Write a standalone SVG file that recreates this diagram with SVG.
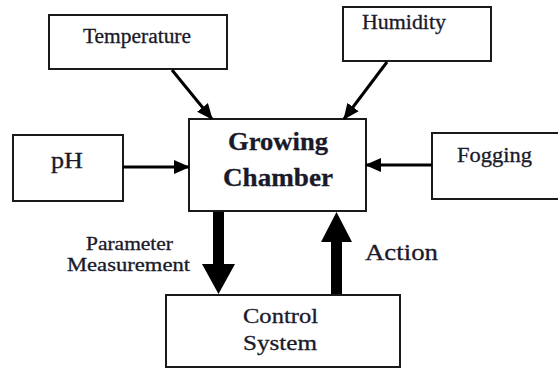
<svg xmlns="http://www.w3.org/2000/svg" width="558" height="368" viewBox="0 0 558 368">
<defs>
<style>
.box{fill:#fff;stroke:#1a1a1a;stroke-width:2}
.t{font-family:'Liberation Serif','Times New Roman',serif;fill:#1a1a2a;stroke:#1a1a2a;stroke-width:0.3;font-size:20px}
.b{font-weight:bold;font-size:25px}
.thin{stroke:#000;stroke-width:3;fill:none}
.thick{fill:#000;stroke:none}
</style>
<marker id="ah" markerUnits="userSpaceOnUse" markerWidth="16" markerHeight="16" viewBox="0 0 16 16" refX="15" refY="8" orient="auto">
<path d="M0,1 L16,8 L0,15 Z" fill="#000"/>
</marker>
</defs>
<rect width="558" height="368" fill="#fff"/>
<g id="temperature">
<rect class="box" x="49" y="15" width="178" height="54"/>
<text class="t" x="83" y="43" textLength="108" lengthAdjust="spacingAndGlyphs">Temperature</text>
</g>
<g id="humidity">
<rect class="box" x="343" y="7" width="148" height="54"/>
<text class="t" x="362" y="29" textLength="84" lengthAdjust="spacingAndGlyphs">Humidity</text>
</g>
<g id="growing-chamber">
<rect class="box" x="189" y="119" width="177" height="92"/>
<text class="t b" x="228" y="150" textLength="100" lengthAdjust="spacingAndGlyphs">Growing</text>
<text class="t b" x="223" y="186" textLength="110" lengthAdjust="spacingAndGlyphs">Chamber</text>
</g>
<g id="ph">
<rect class="box" x="13" y="135" width="110" height="66"/>
<text class="t" x="51" y="168" textLength="32" lengthAdjust="spacingAndGlyphs" style="font-size:23px">pH</text>
</g>
<g id="fogging">
<rect class="box" x="432" y="133" width="130" height="66"/>
<text class="t" x="457" y="162" textLength="75" lengthAdjust="spacingAndGlyphs">Fogging</text>
</g>
<g id="control-system">
<rect class="box" x="166" y="295" width="234" height="72"/>
<text class="t" x="243" y="323" textLength="75" lengthAdjust="spacingAndGlyphs">Control</text>
<text class="t" x="243" y="350" textLength="74" lengthAdjust="spacingAndGlyphs">System</text>
</g>
<g id="connectors">
<line class="thin" x1="172" y1="70" x2="212" y2="119" marker-end="url(#ah)"/>
<line class="thin" x1="387" y1="62" x2="344" y2="119" marker-end="url(#ah)"/>
<line class="thin" x1="123" y1="167" x2="189" y2="167" marker-end="url(#ah)"/>
<line class="thin" x1="432" y1="165" x2="366" y2="165" marker-end="url(#ah)"/>
<path class="thick" d="M213,212 L224,212 L224,264 L235,264 L218.5,294 L202,264 L213,264 Z"/>
<path class="thick" d="M331,294 L342,294 L342,242 L352,242 L336.5,212 L321,242 L331,242 Z"/>
<text class="t" x="86" y="250" textLength="87" lengthAdjust="spacingAndGlyphs" style="font-size:18px">Parameter</text>
<text class="t" x="67" y="271" textLength="123" lengthAdjust="spacingAndGlyphs" style="font-size:18px">Measurement</text>
<text class="t" x="365" y="260" textLength="73" lengthAdjust="spacingAndGlyphs" style="font-size:23px">Action</text>
</g>
</svg>
